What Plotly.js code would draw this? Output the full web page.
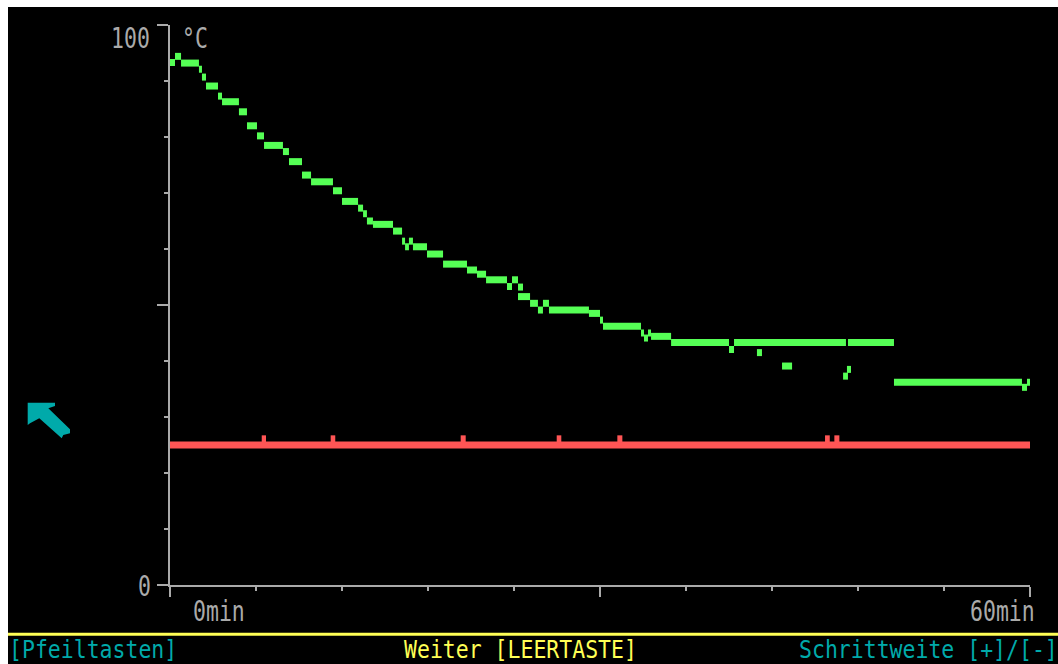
<!DOCTYPE html>
<html><head><meta charset="utf-8">
<script src="https://cdn.plot.ly/plotly-3.0.1.min.js"></script>
<style>
html,body{margin:0;padding:0;background:#ffffff;overflow:hidden;width:1058px;height:664px}
#chart{position:absolute;left:8px;top:7px;width:1050px;height:657px;}
</style>
</head><body><div id="chart"></div><script>
// ---- data (minutes, °C) ----
// main temperature reading: level start times and level values (segment ends at next start)
const stepTimeMin = [0, 0.35, 0.77, 2.02, 2.23, 2.51, 3.35, 3.63, 4.81, 5.37, 6.07, 6.56, 7.88, 8.30, 9.21, 9.84,
  11.37, 12.0, 13.12, 13.47, 13.74, 14.16, 15.56, 16.19, 16.40, 16.67, 16.95, 17.93, 19.05, 20.72, 21.42, 22.05,
  23.51, 23.86, 24.28, 25.12, 25.67, 26.02, 26.44, 29.23, 30.0, 30.21, 32.86, 33.07, 33.35, 33.56, 34.96, 39.0,
  39.35, 47.16, 47.30, 50.51, 59.44, 59.79, 60.16];
const stepTempC = [93.3, 94.4, 93.2, 92.1, 90.7, 89.1, 87.3, 86.3, 84.5, 82.0, 80.2, 78.5, 77.4, 75.6, 73.2, 72.0,
  70.4, 68.5, 67.3, 66.3, 65.0, 64.4, 63.2, 61.4, 60.4, 61.4, 60.4, 59.1, 57.3, 56.25, 55.5, 54.5,
  53.3, 54.5, 51.5, 50.3, 49.1, 50.3, 49.1, 48.5, 47.3, 46.2, 45.0, 44.1, 45.0, 44.4, 43.3, 42.05,
  43.3, null, 43.3, 36.2, 35.3, 36.2, null];
// isolated readings
const strayStartMin = [24.28, 40.95, 42.70, 46.96, 47.23];
const strayEndMin   = [24.63, 41.30, 43.40, 47.30, 47.51];
const strayTempC    = [53.2, 41.5, 39.1, 37.3, 38.5];
// second channel (red): base level and short upward blips
const refTempC = 25.0;
const refStartMin = 0, refEndMin = 60.16;
const blipStartMin = [6.40, 11.21, 20.28, 26.98, 31.21, 45.70, 46.35];
const blipEndMin   = [6.70, 11.53, 20.63, 27.30, 31.56, 46.03, 46.70];
const blipTempC = 26.1;
// labels
const yTickLabels = ['100', '0'];
const unitLabel = '°C';
const xTickLabels = ['0min', '60min'];
const footerLeft = '[Pfeiltasten]';
const footerMid = 'Weiter [LEERTASTE]';
const footerRight = 'Schrittweite [+]/[-]';

// ---- build segment traces ----
function segs(starts, ends, vals) {
  const x = [], y = [];
  for (let i = 0; i < starts.length; i++) {
    if (vals[i] === null) continue;
    x.push(starts[i], ends[i], null);
    y.push(vals[i], vals[i], null);
  }
  return {x, y};
}
const mainSeg = segs(stepTimeMin.slice(0, -1), stepTimeMin.slice(1), stepTempC.slice(0, -1));
const straySeg = segs(strayStartMin, strayEndMin, strayTempC);
const refSeg = segs([refStartMin], [refEndMin], [refTempC]);
const blipSeg = segs(blipStartMin, blipEndMin, blipStartMin.map(() => blipTempC));

const GREEN = '#55ff55', RED = '#ff5555', GRAY = '#aaaaaa', CYAN = '#00aaaa', YELLOW = '#ffff55';
const LW = 7;
function lineTrace(s, color) {
  return {x: s.x, y: s.y, type: 'scatter', mode: 'lines', connectgaps: false,
    line: {color: color, width: LW}, hoverinfo: 'skip'};
}
const traces = [
  lineTrace(refSeg, RED), lineTrace(blipSeg, RED),
  lineTrace(mainSeg, GREEN), lineTrace(straySeg, GREEN)
];

// page pixel -> paper helpers (plot area 170..1030 x, 25..585 y on the page)
const px = X => (X - 170) / 860;
const py = Y => (585 - Y) / 560;
const FONT = 'DejaVu Sans Mono, Liberation Mono, monospace';
const FS = 21.5;
function ann(text, X, Y, xanchor, color) {
  return {text: text, x: px(X), y: py(Y), xref: 'paper', yref: 'paper', xanchor: xanchor, yanchor: 'middle',
    showarrow: false, borderpad: 0, font: {family: FONT, size: FS, color: color}};
}
const arrowPts = [[27.7,402.7],[55,402.7],[55,406],[48.3,408.3],[70,429.3],[70,433.3],[63.3,435],[61.7,438.3],[39.3,418.3],[30,423.3],[27.7,425]];
const arrowPath = 'M ' + arrowPts.map(p => px(p[0]).toFixed(5) + ',' + py(p[1]).toFixed(5)).join(' L ') + ' Z';

const layout = {
  width: 1050, height: 657, autosize: false,
  margin: {l: 162, r: 28, t: 18, b: 79, pad: 0},
  paper_bgcolor: '#000000', plot_bgcolor: '#000000', showlegend: false,
  xaxis: {range: [0, 60], showgrid: false, zeroline: false, showline: true, linecolor: GRAY, linewidth: 2,
    ticks: 'outside', tick0: 0, dtick: 30, ticklen: 10, tickwidth: 2, tickcolor: GRAY, showticklabels: false,
    minor: {ticks: 'outside', dtick: 6, ticklen: 4, tickwidth: 2, tickcolor: GRAY, showgrid: false},
    fixedrange: true},
  yaxis: {range: [0, 100], showgrid: false, zeroline: false, showline: true, linecolor: GRAY, linewidth: 2,
    ticks: 'outside', tick0: 0, dtick: 50, ticklen: 11, tickwidth: 2, tickcolor: GRAY, showticklabels: false,
    minor: {ticks: 'outside', dtick: 10, ticklen: 4, tickwidth: 2, tickcolor: GRAY, showgrid: false},
    fixedrange: true},
  annotations: [
    ann(yTickLabels[0], 151, 38.5, 'right', GRAY),
    ann(unitLabel, 181, 38.5, 'left', GRAY),
    ann(yTickLabels[1], 152, 586, 'right', GRAY),
    ann(xTickLabels[0], 192, 611.5, 'left', GRAY),
    ann(xTickLabels[1], 1036, 611.5, 'right', GRAY),
    ann(footerLeft, 8, 649, 'left', CYAN),
    ann(footerMid, 403, 649, 'left', YELLOW),
    ann(footerRight, 798, 649, 'left', CYAN)
  ],
  shapes: [
    {type: 'line', xref: 'paper', yref: 'paper', x0: px(8), x1: px(1058), y0: py(634.3), y1: py(634.3),
      line: {color: YELLOW, width: 3}},
    {type: 'path', xref: 'paper', yref: 'paper', path: arrowPath, fillcolor: CYAN, line: {width: 0}}
  ]
};
Plotly.newPlot('chart', traces, layout, {displayModeBar: false, staticPlot: true}).then(function () {
  // stretch label glyphs vertically to mimic the tall DOS text-mode font (footer less, to stay on screen)
  document.querySelectorAll('#chart text.annotation-text').forEach(function (t, i) {
    const S = i >= 5 ? 1.15 : 1.32;
    const b = t.getBBox();
    const cy = b.y + b.height / 2;
    t.setAttribute('transform', 'translate(0,' + (cy * (1 - S)).toFixed(2) + ') scale(1,' + S + ')');
  });
});
</script></body></html>
